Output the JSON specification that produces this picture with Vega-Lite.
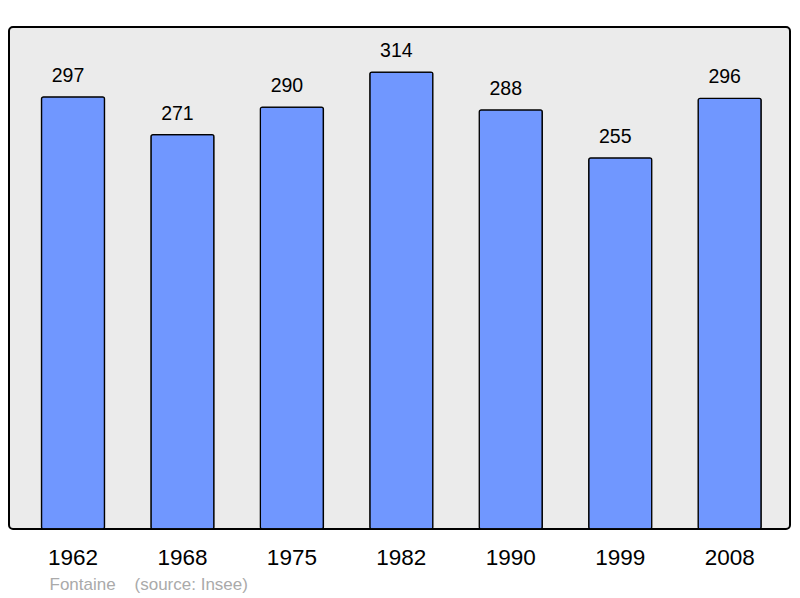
{
  "$schema": "https://vega.github.io/schema/vega-lite/v6.json",
  "width": 781,
  "height": 502,
  "autosize": "none",
  "padding": {"left": 9, "top": 27, "right": 10, "bottom": 69},
  "background": "white",
  "config": {
    "view": {"fill": "#ebebeb", "stroke": "#000000", "strokeWidth": 2, "cornerRadius": 4}
  },
  "data": {
    "values": [
      {"year": "1962", "pop": 297},
      {"year": "1968", "pop": 271},
      {"year": "1975", "pop": 290},
      {"year": "1982", "pop": 314},
      {"year": "1990", "pop": 288},
      {"year": "1999", "pop": 255},
      {"year": "2008", "pop": 296}
    ]
  },
  "encoding": {
    "x": {
      "field": "year",
      "type": "ordinal",
      "sort": null,
      "scale": {"paddingInner": 0.424, "paddingOuter": 0.28, "align": 0.53, "round": false},
      "axis": {
        "title": "Fontaine\u00a0\u00a0\u00a0\u00a0(source: Insee)",
        "titleX": 40,
        "titleY": 60,
        "titleAlign": "left",
        "titleAnchor": null,
        "titleBaseline": "alphabetic",
        "titleFont": "Liberation Sans",
        "titleFontSize": 17,
        "titleFontWeight": "normal",
        "titleColor": "#aaaaaa",
        "labelAngle": 0,
        "labelFont": "Liberation Sans",
        "labelFontSize": 22.5,
        "labelColor": "#000000",
        "labelPadding": 17,
        "labelBaseline": "top",
        "ticks": false,
        "tickSize": 0,
        "domain": false,
        "grid": false
      }
    },
    "y": {
      "field": "pop",
      "type": "quantitative",
      "scale": {"domain": [0, 345], "nice": false},
      "axis": null
    }
  },
  "layer": [
    {
      "mark": {"type": "bar", "fill": "#7097ff", "stroke": "#000000", "strokeWidth": 1.3, "cornerRadius": 2}
    },
    {
      "mark": {"type": "text", "dy": -15, "dx": -5, "baseline": "alphabetic", "fontSize": 19.5, "font": "Liberation Sans", "color": "#000000"},
      "encoding": {"text": {"field": "pop", "type": "quantitative"}}
    }
  ]
}
